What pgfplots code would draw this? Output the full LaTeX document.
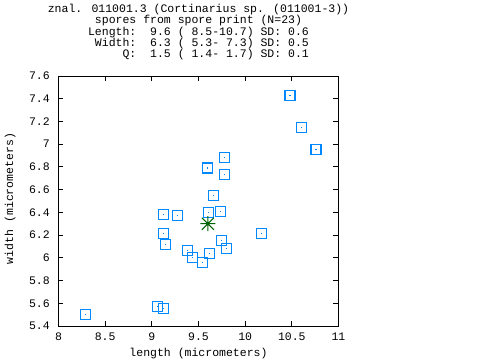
\documentclass[border=0pt]{standalone}
\usepackage{fontspec}
\setmainfont{Liberation Mono}
\usepackage{pgfplots}
\usepackage{pgfplotstable}
\pgfplotsset{compat=1.18}
\definecolor{ptblue}{RGB}{0,136,255}
\definecolor{meangreen}{RGB}{0,100,0}
\newcommand{\gfont}{\fontsize{11.5}{11.2}\selectfont}
\pgfdeclareplotmark{sqdot}{%
  \pgfpathrectangle{\pgfqpoint{-5pt}{-5pt}}{\pgfqpoint{10pt}{10pt}}\pgfusepathqstroke
  \pgfpathrectangle{\pgfqpoint{-0.6pt}{-0.6pt}}{\pgfqpoint{1.2pt}{1.2pt}}\pgfusepathqfill}
\pgfdeclareplotmark{gstar}{%
  \pgfpathmoveto{\pgfqpoint{-7.5pt}{0pt}}\pgfpathlineto{\pgfqpoint{7.5pt}{0pt}}
  \pgfpathmoveto{\pgfqpoint{0pt}{-7.5pt}}\pgfpathlineto{\pgfqpoint{0pt}{7.5pt}}
  \pgfpathmoveto{\pgfqpoint{-6pt}{-6pt}}\pgfpathlineto{\pgfqpoint{6pt}{6pt}}
  \pgfpathmoveto{\pgfqpoint{-6pt}{6pt}}\pgfpathlineto{\pgfqpoint{6pt}{-6pt}}
  \pgfusepathqstroke
  \pgfpathcircle{\pgfpointorigin}{1.5pt}\pgfusepathqfill}
\pgfplotstableread{
x y
10.48 7.43
10.60 7.15
10.76 6.955
9.777 6.884
9.594 6.79
9.777 6.735
9.659 6.55
9.123 6.383
9.273 6.374
9.605 6.40
9.734 6.409
9.123 6.215
9.144 6.119
10.173 6.215
9.744 6.154
9.798 6.083
9.38 6.066
9.616 6.039
9.434 6.004
9.541 5.96
9.059 5.573
9.123 5.555
8.287 5.502
}\spores
\pgfplotstableread{
x y
9.6 6.3
}\meanpt
\begin{document}
\begin{tikzpicture}[x=1pt,y=1pt]
\path[use as bounding box] (0,0) rectangle (480,360);
\begin{axis}[
  at={(58.5pt,34pt)}, anchor=south west,
  scale only axis, width=280pt, height=250pt,
  xmin=8, xmax=11, ymin=5.4, ymax=7.6,
  xtick={8,8.5,9,9.5,10,10.5,11},
  ytick={5.4,5.6,5.8,6,6.2,6.4,6.6,6.8,7,7.2,7.4,7.6},
  tick align=inside, major tick length=5pt,
  axis line style={line width=1pt}, every tick/.style={black,line width=1pt},
  /pgf/number format/assume math mode=true,
  every tick label/.append style={font=\gfont},
  xticklabel style={anchor=base, yshift=-14.5pt},
  yticklabel style={anchor=east, inner sep=0pt, xshift=-8.5pt},
  xlabel={length (micrometers)},
  ylabel={width (micrometers)},
  label style={font=\gfont},
  xlabel style={at={(axis description cs:0.5,-0.12)}, anchor=base},
  ylabel style={at={(axis description cs:-0.162,0.51)}, anchor=base, rotate=0},
  title={znal. 011001.3 (Cortinarius sp. (011001-3))\\spores from spore print (N=23)\\Length:~~9.6~(~8.5-10.7)~SD:~0.6\\~Width:~~6.3~(~5.3-~7.3)~SD:~0.5\\~~~~~Q:~~1.5~(~1.4-~1.7)~SD:~0.1},
  title style={at={(axis description cs:0.5,1)}, anchor=south, yshift=6.5pt, align=center, font=\gfont},
]
\addplot[draw=ptblue, fill=ptblue, only marks, mark=sqdot, mark options={draw=ptblue, fill=ptblue, line width=1.2pt}] table[x=x,y=y] {\spores};
\addplot[draw=meangreen, fill=meangreen, only marks, mark=gstar, mark options={draw=meangreen, fill=meangreen, line width=1pt}] table[x=x,y=y] {\meanpt};
\end{axis}
\end{tikzpicture}
\end{document}
